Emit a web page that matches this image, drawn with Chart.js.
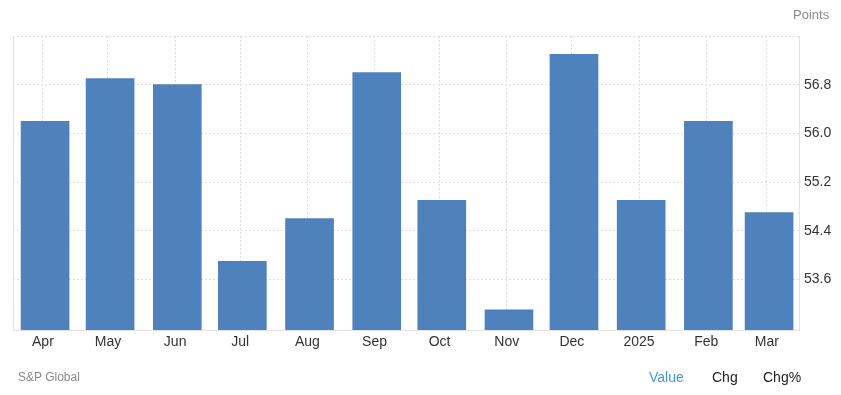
<!DOCTYPE html>
<html>
<head>
<meta charset="utf-8">
<script src="https://cdn.jsdelivr.net/npm/chart.js@4/dist/chart.umd.min.js"></script>
<style>
  html, body { margin: 0; padding: 0; background: #fff; }
  #wrap { position: relative; width: 841px; height: 395px; font-family: "Liberation Sans", Arial, sans-serif; }
  #c { position: absolute; left: 0; top: 0; }
  .t { position: absolute; white-space: nowrap; line-height: 1; }
</style>
</head>
<body>
<div id="wrap">
  <canvas id="c" width="841" height="395"></canvas>
  <div class="t" style="left:793px;top:8px;font-size:13px;color:#8a8a8a;">Points</div>
  <div class="t" style="left:18px;top:371px;font-size:12px;color:#8a8a8a;">S&amp;P Global</div>
  <div class="t" style="left:649px;top:370px;font-size:14px;color:#3d99e8;">Value</div>
  <div class="t" style="left:712px;top:370px;font-size:14px;color:#222;">Chg</div>
  <div class="t" style="left:763px;top:370px;font-size:14px;color:#222;">Chg%</div>
</div>
<script>
// Monthly observations (first day of each month)
const dates = ["2024-04-01", "2024-05-01", "2024-06-01", "2024-07-01", "2024-08-01", "2024-09-01",
               "2024-10-01", "2024-11-01", "2024-12-01", "2025-01-01", "2025-02-01", "2025-03-01"];
const categories = ["Apr", "May", "Jun", "Jul", "Aug", "Sep", "Oct", "Nov", "Dec", "2025", "Feb", "Mar"];
const values = [56.2, 56.9, 56.8, 53.9, 54.6, 57.0, 54.9, 53.1, 57.3, 54.9, 56.2, 54.7];
const yTicks = [53.6, 54.4, 55.2, 56.0, 56.8, 57.6];
const yTickLabels = ["53.6", "54.4", "55.2", "56.0", "56.8", ""];
const yMin = 52.77;
const yMax = 57.6;

const DAY = 86400000;
const origin = Date.UTC(2024, 3, 1);
const dayOf = s => { const [y, m, d] = s.split('-').map(Number); return (Date.UTC(y, m - 1, d) - origin) / DAY; };
const days = dates.map(dayOf);
const xMin = -14.8;
const xMax = dayOf("2025-03-01") + 13.8;

const frame = {
  id: 'frame',
  afterDraw(chart) {
    const a = chart.chartArea, ctx = chart.ctx;
    ctx.save();
    ctx.setLineDash([]);
    ctx.strokeStyle = '#e3e3e3';
    ctx.lineWidth = 1;
    ctx.beginPath();
    ctx.moveTo(a.left + 0.5, a.top);
    ctx.lineTo(a.left + 0.5, a.bottom);
    ctx.stroke();
    ctx.restore();
  }
};

const FONT = { family: '"Liberation Sans", Arial, sans-serif', size: 14 };

new Chart(document.getElementById('c'), {
  type: 'bar',
  data: {
    datasets: [{
      data: days.map((d, i) => ({ x: d, y: values[i] })),
      backgroundColor: '#4f81bd',
      borderWidth: 0,
      barThickness: 48
    }]
  },
  options: {
    responsive: false,
    animation: false,
    events: [],
    layout: { padding: { left: 13, top: 36, right: 0, bottom: 0 } },
    plugins: { legend: { display: false }, tooltip: { enabled: false } },
    scales: {
      x: {
        type: 'linear',
        offset: false,
        min: xMin,
        max: xMax,
        afterBuildTicks(axis) { axis.ticks = days.map(d => ({ value: d - 1 })); },
        grid: { offset: false, color: '#dcdcdc', drawTicks: false, lineWidth: 1 },
        border: { display: true, color: '#e3e3e3', dash: [2, 2] },
        ticks: {
          color: '#333', font: FONT, padding: 4, maxRotation: 0, autoSkip: false,
          callback(v, i) { return categories[i]; }
        },
        afterFit(axis) { axis.height = 65; }
      },
      y: {
        position: 'right',
        min: yMin,
        max: yMax,
        afterBuildTicks(axis) { axis.ticks = yTicks.map(v => ({ value: v })); },
        grid: { color: '#dcdcdc', drawTicks: false, lineWidth: 1 },
        border: { display: true, color: '#e3e3e3', dash: [2, 2] },
        ticks: {
          padding: 5,
          color: '#333',
          font: FONT,
          callback(v, i) { return yTickLabels[i]; }
        },
        afterFit(axis) { axis.width = 42; }
      }
    }
  },
  plugins: [frame]
});
</script>
</body>
</html>
